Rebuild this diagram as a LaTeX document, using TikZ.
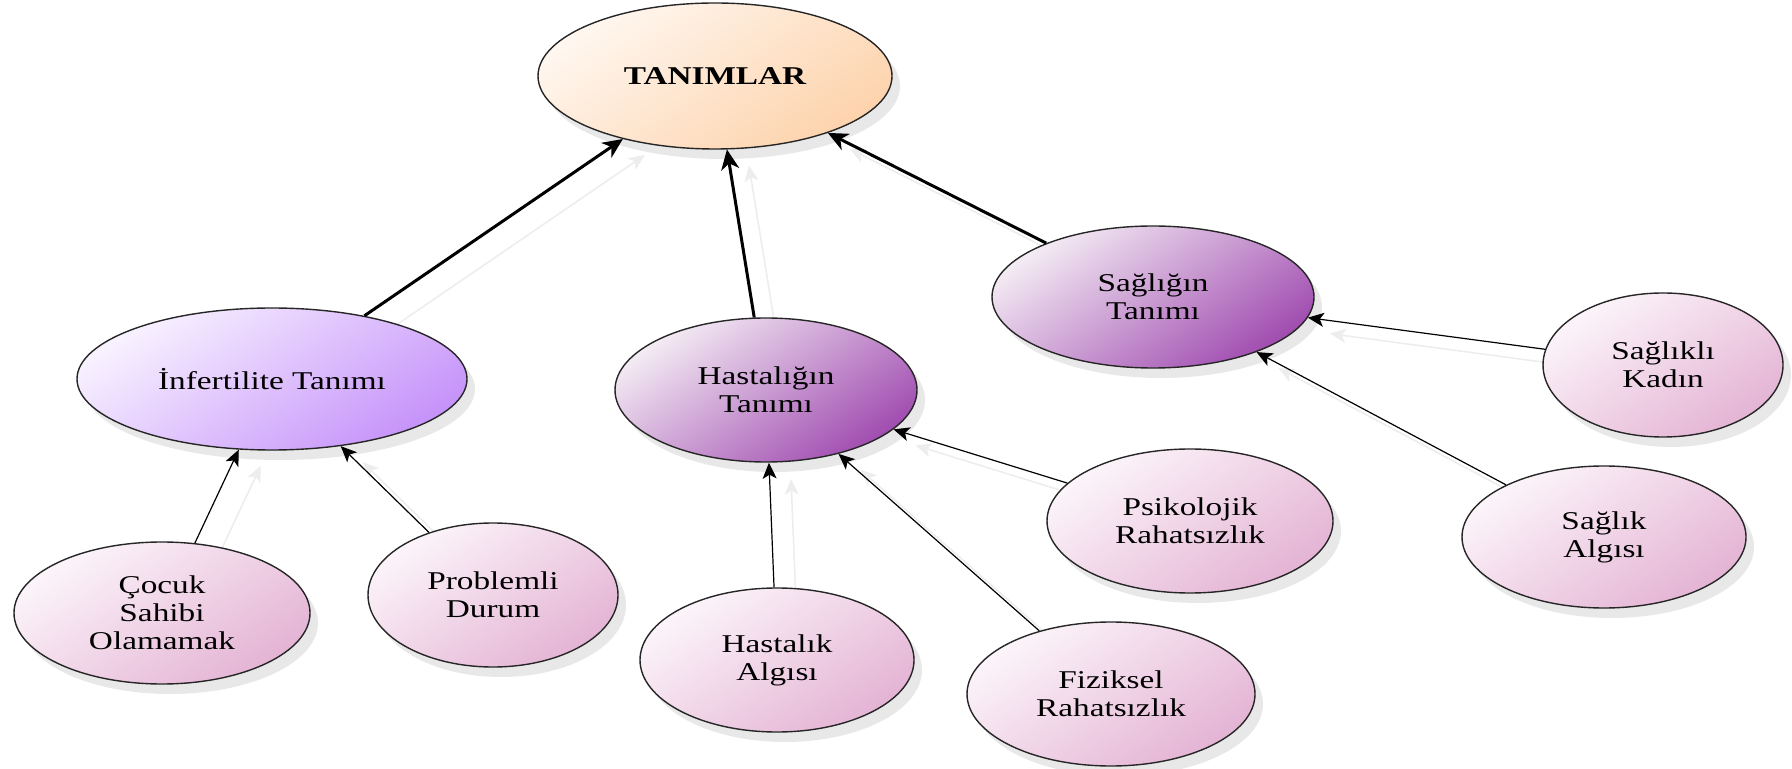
\documentclass[tikz,border=0pt]{standalone}
\usepackage{fontspec}
\setmainfont{Liberation Serif}[FakeStretch=1.3]
\usetikzlibrary{arrows.meta,shapes.geometric,shadows}
\definecolor{peachL}{HTML}{FFF7F0}
\definecolor{peachD}{HTML}{FDD3AC}
\definecolor{lavL}{HTML}{F8F2FF}
\definecolor{lavD}{HTML}{C693FA}
\definecolor{purL}{HTML}{F4ECF4}
\definecolor{purD}{HTML}{A04CB0}
\definecolor{pinkL}{HTML}{FCF5FA}
\definecolor{pinkD}{HTML}{E4B3D4}
\pgfdeclarelayer{bg}
\pgfsetlayers{bg,main}
\tikzset{
  oval/.style={ellipse, draw=black!85, line width=0.7pt, inner sep=0pt, align=center,
    font=\fontsize{12.8pt}{14pt}\selectfont,
    drop shadow={shadow xshift=4pt, shadow yshift=-5pt, opacity=0.18, fill=black!50}},
  rootoval/.style={oval, top color=peachL, bottom color=peachD, shading angle=35,
    font=\fontsize{12.8pt}{14pt}\selectfont\bfseries},
  infoval/.style={oval, top color=lavL, bottom color=lavD, shading angle=35},
  midoval/.style={oval, top color=purL, bottom color=purD, shading angle=35},
  leafoval/.style={oval, top color=pinkL, bottom color=pinkD, shading angle=35},
  bigarrow/.style={line width=1.5pt, -{Stealth[length=10pt,width=9pt,inset=3pt]}},
  smallarrow/.style={line width=0.6pt, -{Stealth[length=8pt,width=7pt,inset=2pt]}},
  ghost/.style={draw=black!7, line width=0.8pt, -{Stealth[length=8pt,width=7pt,inset=2pt]},
    transform canvas={xshift=11pt,yshift=-8pt}}
}
\begin{document}
\begin{tikzpicture}[x=0.5pt,y=-0.5pt]
\useasboundingbox (0,0) rectangle (1792,769);
% nodes (minimum width in pt = horizontal radius in px)
\node[rootoval, minimum width=177pt, minimum height=73pt] (root) at (715,76) {TANIMLAR};
\node[infoval, minimum width=195pt, minimum height=71pt] (inf) at (272,379) {İnfertilite Tanımı};
\node[midoval, minimum width=151pt, minimum height=72pt] (hast) at (766,390) {Hastalığın\\Tanımı};
\node[midoval, minimum width=161pt, minimum height=71pt] (sag) at (1153,297) {Sağlığın\\Tanımı};
\node[leafoval, minimum width=148pt, minimum height=71pt] (cocuk) at (162,613) {Çocuk\\Sahibi\\Olamamak};
\node[leafoval, minimum width=125pt, minimum height=72pt] (prob) at (493,595) {Problemli\\Durum};
\node[leafoval, minimum width=137pt, minimum height=72pt] (halg) at (777,660) {Hastalık\\Algısı};
\node[leafoval, minimum width=144pt, minimum height=72pt] (fiz) at (1111,694) {Fiziksel\\Rahatsızlık};
\node[leafoval, minimum width=143pt, minimum height=72pt] (psi) at (1190,521) {Psikolojik\\Rahatsızlık};
\node[leafoval, minimum width=120pt, minimum height=72pt] (kadin) at (1663,365) {Sağlıklı\\Kadın};
\node[leafoval, minimum width=142pt, minimum height=71pt] (salg) at (1604,537) {Sağlık\\Algısı};
% faint reflected connectors, behind the ellipses
\begin{pgfonlayer}{bg}
\draw[ghost] (inf) -- (root);
\draw[ghost] (hast) -- (root);
\draw[ghost] (sag) -- (root);
\draw[ghost] (cocuk) -- (inf);
\draw[ghost] (prob) -- (inf);
\draw[ghost] (halg) -- (hast);
\draw[ghost] (fiz) -- (hast);
\draw[ghost] (psi) -- (hast);
\draw[ghost] (kadin) -- (sag);
\draw[ghost] (salg) -- (sag);
\end{pgfonlayer}
% connectors
\draw[bigarrow] (inf) -- (root);
\draw[bigarrow] (hast) -- (root);
\draw[bigarrow] (sag) -- (root);
\draw[smallarrow] (cocuk) -- (inf);
\draw[smallarrow] (prob) -- (inf);
\draw[smallarrow] (halg) -- (hast);
\draw[smallarrow] (fiz) -- (hast);
\draw[smallarrow] (psi) -- (hast);
\draw[smallarrow] (kadin) -- (sag);
\draw[smallarrow] (salg) -- (sag);
\end{tikzpicture}
\end{document}
